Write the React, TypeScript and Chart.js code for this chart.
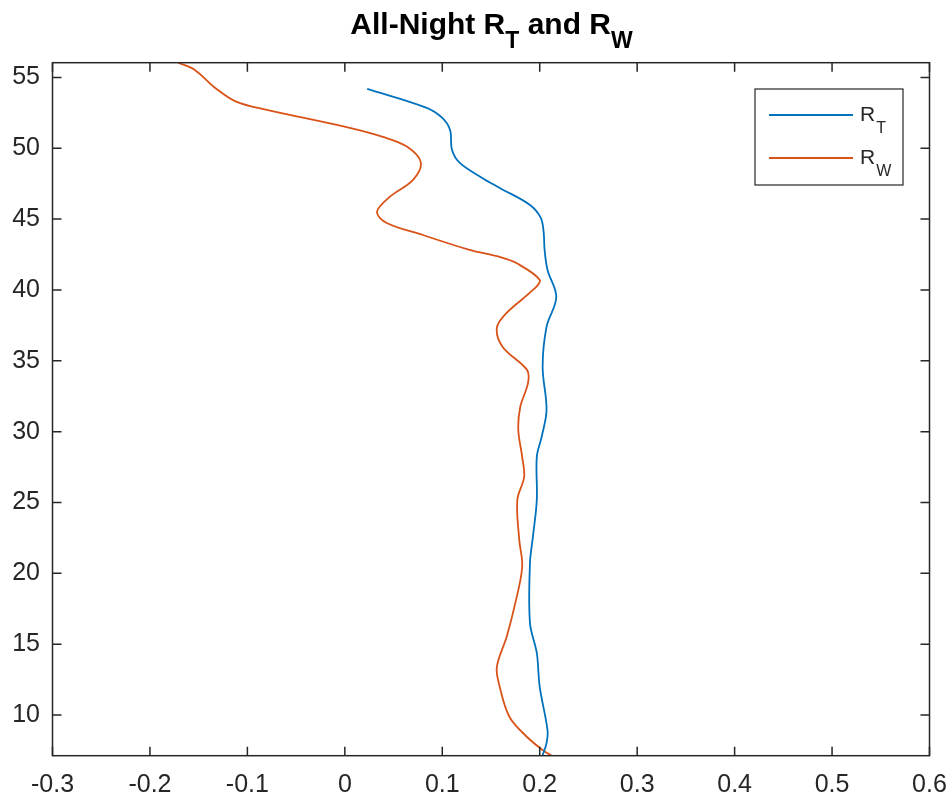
import React, { useEffect, useRef } from "react";
import { Chart, registerables } from "chart.js";

Chart.register(...registerables);

// R_T profile (x = correlation value, y = height)
const rtX = [0.023, 0.084, 0.1, 0.108, 0.11, 0.118, 0.141, 0.159, 0.19, 0.201, 0.204, 0.205, 0.208, 0.217, 0.207, 0.203, 0.207, 0.202, 0.197, 0.197, 0.193, 0.19, 0.19, 0.197, 0.2, 0.208, 0.207, 0.203];
const rtY = [54.19, 52.85, 52.14, 51.29, 49.88, 48.97, 47.91, 47.2, 46.0, 45.1, 44.1, 42.83, 41.41, 39.5, 37.4, 34.57, 31.54, 29.63, 28.22, 25.18, 22.57, 20.73, 16.49, 14.38, 11.98, 8.94, 8.02, 7.17];

// R_W profile
const rwX = [-0.171, -0.154, -0.133, -0.111, -0.08, 0.005, 0.039, 0.064, 0.078, 0.07, 0.046, 0.033, 0.043, 0.08, 0.128, 0.159, 0.176, 0.2, 0.193, 0.166, 0.156, 0.162, 0.187, 0.188, 0.18, 0.178, 0.182, 0.184, 0.177, 0.179, 0.182, 0.174, 0.166, 0.156, 0.159, 0.169, 0.187, 0.203, 0.212];
const rwY = [56.04, 55.53, 54.26, 53.27, 52.71, 51.44, 50.8, 50.1, 49.0, 47.77, 46.57, 45.51, 44.73, 43.88, 42.83, 42.33, 41.9, 40.7, 40.0, 38.38, 37.32, 35.98, 34.36, 33.44, 31.74, 30.12, 28.22, 26.8, 25.18, 22.36, 20.45, 17.63, 15.51, 13.39, 11.98, 9.86, 8.45, 7.53, 7.13];

const xTicks = [-0.3, -0.2, -0.1, 0, 0.1, 0.2, 0.3, 0.4, 0.5, 0.6];
const yTicks = [10, 15, 20, 25, 30, 35, 40, 45, 50, 55];
const xRange = [-0.3, 0.6];
const yRange = [7.13, 56.04];

const titleParts = [
  { text: "All-Night R", sub: false },
  { text: "T", sub: true },
  { text: " and R", sub: false },
  { text: "W", sub: true },
];
const seriesNames = [
  { main: "R", sub: "T" },
  { main: "R", sub: "W" },
];

const BLUE = "#0072BD";
const ORANGE = "#D95319";
const AXIS = "#262626";
const FONT = "'Liberation Sans', Arial, Helvetica, sans-serif";

const toPoints = (xs: number[], ys: number[]) => xs.map((x, i) => ({ x, y: ys[i] }));

const framePlugin = {
  id: "frame",
  afterDraw(chart: any) {
    const { ctx, chartArea } = chart;
    const { left, right, top, bottom } = chartArea;
    const xs = chart.scales.x;
    const ys = chart.scales.y;
    ctx.save();
    ctx.strokeStyle = AXIS;
    ctx.lineWidth = 1.5;
    ctx.strokeRect(left, top, right - left, bottom - top);
    const tl = 9;
    ctx.beginPath();
    xTicks.forEach((v) => {
      const px = xs.getPixelForValue(v);
      ctx.moveTo(px, bottom);
      ctx.lineTo(px, bottom - tl);
      ctx.moveTo(px, top);
      ctx.lineTo(px, top + tl);
    });
    yTicks.forEach((v) => {
      const py = ys.getPixelForValue(v);
      ctx.moveTo(left, py);
      ctx.lineTo(left + tl, py);
      ctx.moveTo(right, py);
      ctx.lineTo(right - tl, py);
    });
    ctx.stroke();

    // Title with subscripts
    const mainFont = `bold 30px ${FONT}`;
    const subFont = `bold 23px ${FONT}`;
    let total = 0;
    titleParts.forEach((p) => {
      ctx.font = p.sub ? subFont : mainFont;
      total += ctx.measureText(p.text).width;
    });
    let x = 491.5 - total / 2;
    ctx.fillStyle = "#000000";
    ctx.textAlign = "left";
    ctx.textBaseline = "alphabetic";
    titleParts.forEach((p) => {
      ctx.font = p.sub ? subFont : mainFont;
      ctx.fillText(p.text, x, p.sub ? 48 : 34);
      x += ctx.measureText(p.text).width;
    });

    // Legend
    const lx = 755, ly = 89, lw = 148, lh = 96;
    ctx.fillStyle = "#ffffff";
    ctx.fillRect(lx, ly, lw, lh);
    ctx.strokeStyle = AXIS;
    ctx.lineWidth = 1.2;
    ctx.strokeRect(lx, ly, lw, lh);
    const colors = [BLUE, ORANGE];
    const rows = [115, 158];
    seriesNames.forEach((s, i) => {
      ctx.strokeStyle = colors[i];
      ctx.lineWidth = 1.8;
      ctx.beginPath();
      ctx.moveTo(769, rows[i]);
      ctx.lineTo(853, rows[i]);
      ctx.stroke();
      ctx.fillStyle = AXIS;
      ctx.font = `21px ${FONT}`;
      ctx.fillText(s.main, 860, rows[i] + 6);
      const w = ctx.measureText(s.main).width;
      ctx.font = `16px ${FONT}`;
      ctx.fillText(s.sub, 860 + w + 1, rows[i] + 18);
    });
    ctx.restore();
  },
};

export default function App() {
  const ref = useRef<HTMLCanvasElement | null>(null);
  useEffect(() => {
    if (!ref.current) return;
    const chart = new Chart(ref.current, {
      type: "scatter",
      data: {
        datasets: [
          {
            label: "R_T",
            data: toPoints(rtX, rtY),
            showLine: true,
            borderColor: BLUE,
            backgroundColor: BLUE,
            borderWidth: 1.8,
            pointRadius: 0,
            tension: 0.35,
          },
          {
            label: "R_W",
            data: toPoints(rwX, rwY),
            showLine: true,
            borderColor: ORANGE,
            backgroundColor: ORANGE,
            borderWidth: 1.8,
            pointRadius: 0,
            tension: 0.35,
          },
        ],
      },
      options: {
        responsive: false,
        animation: false,
        devicePixelRatio: 1,
        layout: { padding: { top: 62.7, right: 21.5, left: 0, bottom: 0 } },
        plugins: { legend: { display: false }, title: { display: false }, tooltip: { enabled: false } },
        scales: {
          x: {
            type: "linear",
            min: xRange[0],
            max: xRange[1],
            grid: { display: false, drawTicks: false },
            border: { display: false },
            afterBuildTicks: (s: any) => {
              s.ticks = xTicks.map((v) => ({ value: v }));
            },
            afterFit: (s: any) => {
              s.height = 43.3;
              s.paddingLeft = 0;
              s.paddingRight = 0;
            },
            ticks: {
              autoSkip: false,
              maxRotation: 0,
              padding: 14,
              color: AXIS,
              font: { family: FONT, size: 25 },
              callback: (v: any) => String(Number(Number(v).toFixed(1))),
            },
          },
          y: {
            type: "linear",
            min: yRange[0],
            max: yRange[1],
            grid: { display: false, drawTicks: false },
            border: { display: false },
            afterBuildTicks: (s: any) => {
              s.ticks = yTicks.map((v) => ({ value: v }));
            },
            afterFit: (s: any) => {
              s.width = 52.5;
              s.paddingTop = 0;
              s.paddingBottom = 0;
            },
            ticks: {
              autoSkip: false,
              padding: 12.5,
              color: AXIS,
              font: { family: FONT, size: 25 },
              callback: (v: any) => String(v),
            },
          },
        },
      },
      plugins: [framePlugin],
    });
    return () => chart.destroy();
  }, []);
  return (
    <div style={{ position: "absolute", left: 0, top: 0, width: 951, height: 799, background: "#ffffff" }}>
      <canvas ref={ref} width={951} height={799} style={{ display: "block" }} />
    </div>
  );
}
